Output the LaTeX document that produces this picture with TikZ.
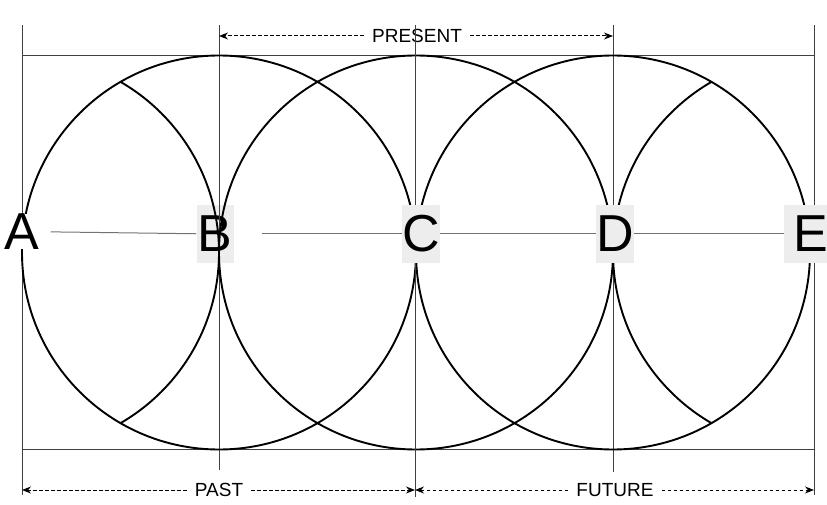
\documentclass[tikz,border=0pt]{standalone}
\usepackage{fontspec}
\setmainfont{Liberation Sans}
\usetikzlibrary{arrows.meta}
\begin{document}
\begin{tikzpicture}[x=1pt,y=1pt,
  circ/.style={line width=1.9pt,black},
  guide/.style={line width=1pt,black!75},
  midline/.style={line width=1pt,black!55},
  dasharrow/.style={line width=1pt,dash pattern=on 3.5pt off 2.5pt,-{Stealth[length=9pt,width=7pt]}},
  letter/.style={font=\fontsize{52}{52}\selectfont,inner sep=0pt,minimum width=37pt,minimum height=58pt,fill=black!7},
  period/.style={font=\fontsize{19}{19}\selectfont,inner xsep=8pt,inner ysep=0pt}
]
\useasboundingbox (0,0) rectangle (827,504);
% circle centres
\coordinate (cA) at (22,251.5);
\coordinate (cB) at (219,251.5);
\coordinate (cC) at (416,251.5);
\coordinate (cD) at (613,251.5);
\coordinate (cE) at (810,251.5);
% vertical guide end points
\coordinate (tA) at (22,479);  \coordinate (bA) at (22,9);
\coordinate (tB) at (219,479); \coordinate (bB) at (219,34);
\coordinate (tC) at (415,479); \coordinate (bC) at (415,7);
\coordinate (tD) at (613,479); \coordinate (bD) at (613,32);
\coordinate (tE) at (814,479); \coordinate (bE) at (814,9);
% horizontal frame lines
\coordinate (hTL) at (22,448); \coordinate (hTR) at (814,448);
\coordinate (hBL) at (22,55);  \coordinate (hBR) at (814,55);
% arrow ends
\coordinate (pB) at (219,468); \coordinate (pD) at (613,468);
\coordinate (qA) at (22,14); \coordinate (qC) at (415,14); \coordinate (qE) at (814,14);

% label B (lines drawn over it)
\node[letter] (LB) at (215,270) {B};

% frame lines
\draw[guide] (hTL) -- (hTR);
\draw[guide] (hBL) -- (hBR);
\draw[guide] (tA) -- (bA);
\draw[guide] (tB) -- (bB);
\draw[guide] (tD) -- (bD);
\draw[guide] (tE) -- (bE);

% circles
\draw[circ] (cB) circle[radius=197];
\draw[circ] (cC) circle[radius=197];
\draw[circ] (cD) circle[radius=197];
\begin{scope}
  \clip (cB) circle[radius=197];
  \draw[circ] (cA) circle[radius=197];
\end{scope}
\begin{scope}
  \clip (cD) circle[radius=197];
  \draw[circ] (cE) circle[radius=197];
\end{scope}

% period labels and arrows
\node[period] (present) at (417,468) {PRESENT};
\node[period] (past) at (219,14) {PAST};
\node[period] (future) at (615,14) {FUTURE};
\draw[dasharrow] (present) -- (pB);
\draw[dasharrow] (present) -- (pD);
\draw[dasharrow] (past) -- (qA);
\draw[dasharrow] (past) -- (qC);
\draw[dasharrow] (future) -- (qC);
\draw[dasharrow] (future) -- (qE);

\draw[guide] (tC) -- (bC);

% point labels over the lines
\node[font=\fontsize{52}{52}\selectfont,inner sep=0pt,fill=white] (LA) at (22,272.5) {A};
\node[letter] (LC) at (421,270) {C};
\node[letter] (LD) at (615,270) {D};
\node[letter,minimum width=54pt] (LE) at (811,270) {E};

% middle line
\draw[midline,shorten <=11pt] (LA) -- (LB);
\draw[midline,shorten <=28pt] (LB) -- (LC);
\draw[midline] (LC) -- (LD);
\draw[midline] (LD) -- (LE);
\end{tikzpicture}
\end{document}
